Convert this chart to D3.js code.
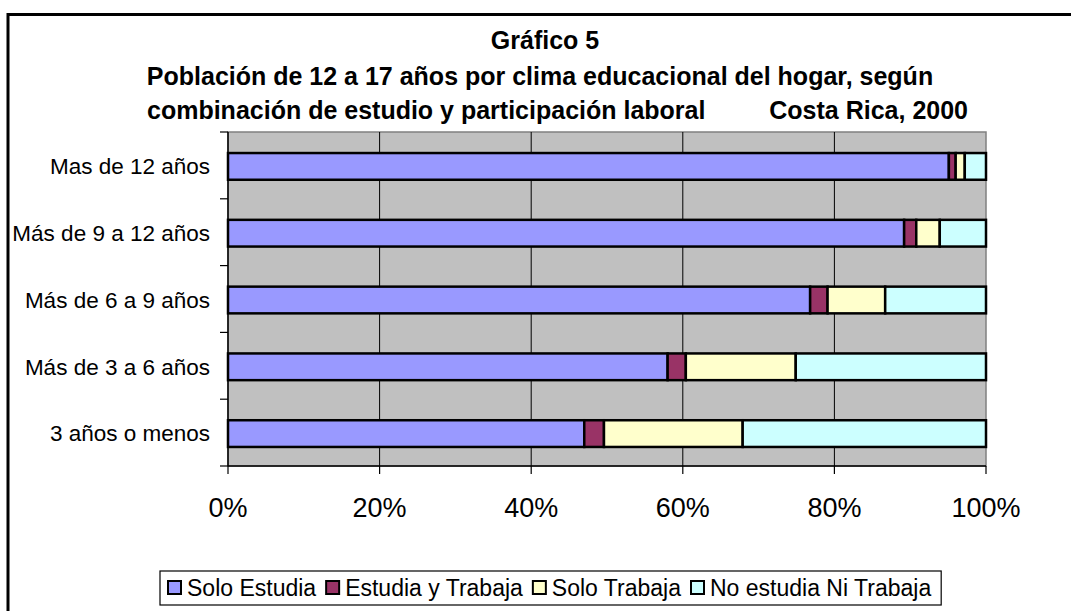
<!DOCTYPE html>
<html><head><meta charset="utf-8">
<script src="https://cdn.jsdelivr.net/npm/d3@7"></script>
<style>html,body{margin:0;padding:0;background:#fff;}svg{display:block;font-family:Arial,"Liberation Sans",sans-serif;}</style>
</head><body>
<svg id="c" width="1071" height="611"></svg>
<script>
const categories = ["Mas de 12 años","Más de 9 a 12 años","Más de 6 a 9 años","Más de 3 a 6 años","3 años o menos"];
const seriesNames = ["Solo Estudia","Estudia y Trabaja","Solo Trabaja","No estudia Ni Trabaja"];
const soloEstudia     = [95.1, 89.2, 76.8, 58.0, 47.0];
const estudiaTrabaja  = [0.9, 1.6, 2.3, 2.4, 2.6];
const soloTrabaja     = [1.2, 3.1, 7.6, 14.5, 18.3];
const noEstudiaNi     = [2.8, 6.1, 13.3, 25.1, 32.1];
const tickValues = [0, 0.2, 0.4, 0.6, 0.8, 1.0];
const titleLines = ["Gráfico 5","Población de 12 a 17 años por clima educacional del hogar, según"];
const titleLine3a = "combinación de estudio y participación laboral";
const titleLine3b = "Costa Rica, 2000";
const colors = ["#9999FF","#993366","#FFFFCC","#CCFFFF"];

const svg = d3.select("#c");
// outer frame
svg.append("rect").attr("x",8).attr("y",14.5).attr("width",1200).attr("height",800)
  .attr("fill","#fff").attr("stroke","#000").attr("stroke-width",3);

const L=228, R=986, T=132, B=466;
const x = d3.scaleLinear().domain([0,1]).range([L,R]);
const y = d3.scaleBand().domain(categories).range([T,B]);

const rows = categories.map((c,i)=>{
  const vals=[soloEstudia[i],estudiaTrabaja[i],soloTrabaja[i],noEstudiaNi[i]];
  const tot=d3.sum(vals); const o={cat:c};
  seriesNames.forEach((s,j)=>o[s]=vals[j]/tot); return o;
});
const stack = d3.stack().keys(seriesNames)(rows);

// plot area
svg.append("rect").attr("x",L).attr("y",T).attr("width",R-L).attr("height",B-T)
  .attr("fill","#C0C0C0").attr("stroke","#808080").attr("stroke-width",1.5);
// gridlines
svg.append("g").selectAll("line").data(tickValues.slice(1,-1)).join("line")
  .attr("x1",d=>x(d)).attr("x2",d=>x(d)).attr("y1",T).attr("y2",B)
  .attr("stroke","#000").attr("stroke-width",1);

// bars
const bh = y.bandwidth()*0.4;
svg.append("g").selectAll("g").data(stack).join("g").attr("fill",(d,i)=>colors[i])
  .selectAll("rect").data(d=>d).join("rect")
  .attr("x",d=>x(d[0])).attr("width",d=>x(d[1])-x(d[0]))
  .attr("y",d=>y(d.data.cat)+y.bandwidth()/2-bh/2+1).attr("height",bh)
  .attr("stroke","#000").attr("stroke-width",2.5);

// y axis
const ya = svg.append("g");
ya.append("line").attr("x1",L).attr("x2",L).attr("y1",T).attr("y2",B).attr("stroke","#000").attr("stroke-width",1.5);
const yb = [...categories.map(c=>y(c)), B];
ya.selectAll("line.t").data(yb).join("line").attr("class","t")
  .attr("x1",L-8).attr("x2",L).attr("y1",d=>d).attr("y2",d=>d).attr("stroke","#000").attr("stroke-width",1.2);
ya.selectAll("text").data(categories).join("text")
  .attr("x",210).attr("y",d=>y(d)+y.bandwidth()/2+1).attr("dy","0.35em")
  .attr("text-anchor","end").attr("font-size",22.5).attr("fill","#000").text(d=>d);

// x axis
const xa = svg.append("g");
xa.append("line").attr("x1",L).attr("x2",R).attr("y1",B).attr("y2",B).attr("stroke","#000").attr("stroke-width",1.5);
xa.selectAll("line.t").data(tickValues).join("line").attr("class","t")
  .attr("x1",d=>x(d)).attr("x2",d=>x(d)).attr("y1",B).attr("y2",B+8).attr("stroke","#000").attr("stroke-width",1.2);
xa.selectAll("text").data(tickValues).join("text")
  .attr("x",d=>x(d)).attr("y",517).attr("text-anchor","middle").attr("font-size",27).attr("fill","#000")
  .text(d3.format(".0%"));

// title
const tf = 25;
svg.append("text").attr("x",545).attr("y",49).attr("text-anchor","middle").attr("font-size",tf).attr("font-weight","bold").text(titleLines[0]);
svg.append("text").attr("x",540).attr("y",85).attr("text-anchor","middle").attr("font-size",tf).attr("font-weight","bold").text(titleLines[1]);
svg.append("text").attr("x",147).attr("y",119).attr("text-anchor","start").attr("font-size",tf).attr("font-weight","bold").text(titleLine3a);
svg.append("text").attr("x",968).attr("y",119).attr("text-anchor","end").attr("font-size",tf).attr("font-weight","bold").text(titleLine3b);

// legend
const lg = svg.append("g");
const box = lg.append("rect").attr("x",160).attr("y",571).attr("height",34).attr("fill","#fff").attr("stroke","#000").attr("stroke-width",1.2);
let cx = 168;
seriesNames.forEach((s,i)=>{
  lg.append("rect").attr("x",cx).attr("y",581).attr("width",13).attr("height",13).attr("fill",colors[i]).attr("stroke","#000").attr("stroke-width",2);
  const t = lg.append("text").attr("x",cx+19).attr("y",596).attr("font-size",23).attr("fill","#000").text(s);
  cx = cx+19+t.node().getComputedTextLength()+10;
});
box.attr("width",cx-160);
</script>
</body></html>
